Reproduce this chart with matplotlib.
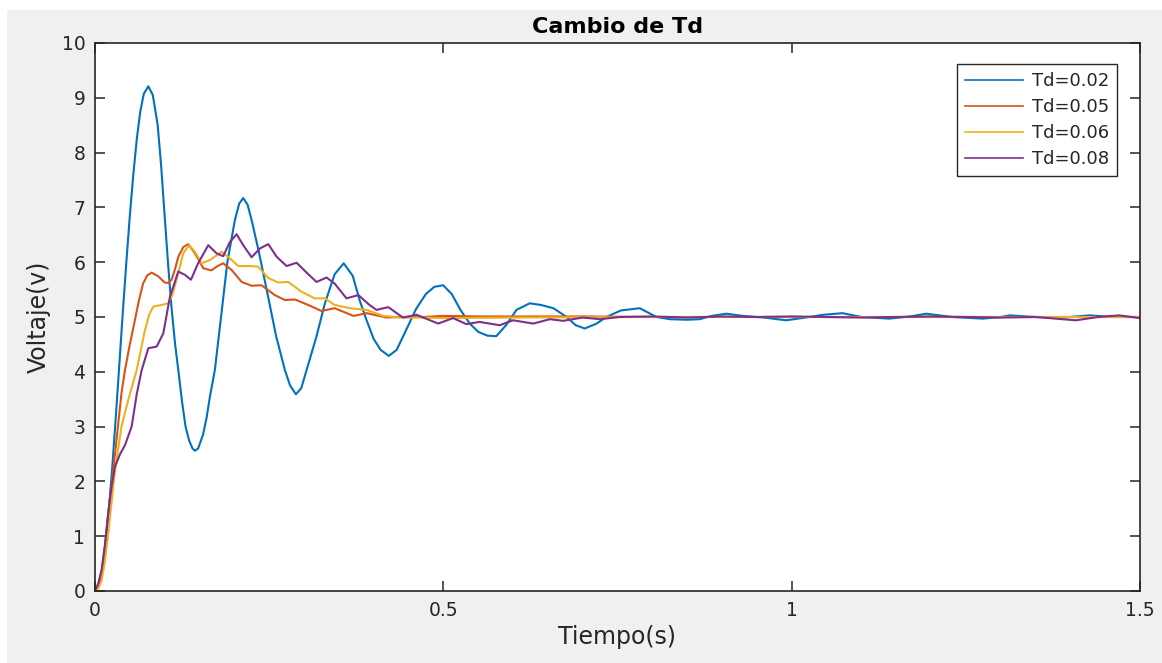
import matplotlib.pyplot as plt
from matplotlib.patches import Rectangle

# Step response readings (time in s, voltage in V)
t_02 = [0, 0.005, 0.01, 0.015, 0.02, 0.025, 0.03, 0.035, 0.04, 0.045, 0.05, 0.055,
        0.06, 0.065, 0.07, 0.0765, 0.083, 0.09, 0.095, 0.1004, 0.105, 0.11, 0.115,
        0.1196, 0.125, 0.13, 0.135, 0.14, 0.1435, 0.148, 0.155, 0.16, 0.165, 0.172,
        0.18, 0.19, 0.2008, 0.207, 0.2128, 0.219, 0.2248, 0.235, 0.248, 0.26, 0.2726,
        0.28, 0.2884, 0.296, 0.3037, 0.318, 0.33, 0.344, 0.357, 0.37, 0.38, 0.389,
        0.40, 0.41, 0.4217, 0.433, 0.445, 0.461, 0.475, 0.487, 0.4997, 0.512, 0.525,
        0.538, 0.55, 0.563, 0.576, 0.59, 0.605, 0.624, 0.64, 0.658, 0.677, 0.69, 0.703,
        0.72, 0.734, 0.755, 0.782, 0.806, 0.825, 0.85, 0.868, 0.885, 0.906, 0.93, 0.96,
        0.992, 1.02, 1.045, 1.073, 1.10, 1.14, 1.17, 1.193, 1.23, 1.274, 1.30,
        1.313, 1.35, 1.39, 1.428, 1.46, 1.5]
v_02 = [0, 0.1, 0.35, 0.85, 1.5, 2.3, 3.2, 4.15, 5.1, 6.0, 6.85, 7.6,
        8.25, 8.75, 9.07, 9.21, 9.05, 8.5, 7.75, 6.77, 5.95, 5.15, 4.5,
        4.03, 3.45, 3.0, 2.75, 2.6, 2.56, 2.6, 2.85, 3.15, 3.55, 4.03,
        4.9, 6.0, 6.77, 7.07, 7.17, 7.05, 6.77, 6.2, 5.4, 4.65, 4.03,
        3.75, 3.59, 3.7, 4.03, 4.65, 5.25, 5.78, 5.98, 5.75, 5.3, 4.97,
        4.6, 4.4, 4.29, 4.4, 4.72, 5.15, 5.42, 5.55, 5.58, 5.42, 5.12,
        4.88, 4.73, 4.66, 4.65, 4.85, 5.13, 5.25, 5.22, 5.16, 5.0, 4.85, 4.79,
        4.88, 5.0, 5.12, 5.16, 5.0, 4.96, 4.95, 4.96, 5.02, 5.06, 5.02, 4.99,
        4.94, 4.99, 5.04, 5.07, 5.0, 4.97, 5.01, 5.06, 5.0, 4.97, 5.0,
        5.03, 5.0, 4.99, 5.03, 5.0, 5.0]

t_05 = [0, 0.005, 0.0096, 0.0143, 0.019, 0.0287, 0.038, 0.043, 0.05, 0.0574, 0.063,
        0.069, 0.075, 0.0813, 0.091, 0.1, 0.105, 0.11, 0.115, 0.1196, 0.127, 0.134,
        0.1435, 0.1555, 0.167, 0.176, 0.184, 0.196, 0.2105, 0.2248, 0.239, 0.258,
        0.2726, 0.287, 0.306, 0.325, 0.344, 0.371, 0.39, 0.4185, 0.44, 0.47, 0.5,
        0.55, 0.6, 0.7, 0.8, 1.5]
v_05 = [0, 0.1, 0.32, 0.81, 1.42, 2.5, 3.61, 4.03, 4.5, 4.95, 5.3,
        5.61, 5.76, 5.81, 5.74, 5.63, 5.62, 5.68, 5.88, 6.10, 6.28, 6.33,
        6.16, 5.89, 5.85, 5.93, 5.98, 5.86, 5.64, 5.57, 5.58, 5.40,
        5.31, 5.32, 5.22, 5.11, 5.16, 5.02, 5.07, 4.99, 5.0, 5.0, 5.02,
        5.01, 5.01, 5.01, 5.0, 5.0]

t_06 = [0, 0.005, 0.0096, 0.0143, 0.019, 0.0287, 0.038, 0.048, 0.0598, 0.0717, 0.078,
        0.0837, 0.0956, 0.105, 0.111, 0.117, 0.1267, 0.1348, 0.1435, 0.153, 0.165,
        0.1817, 0.191, 0.2056, 0.22, 0.234, 0.2487, 0.263, 0.2774, 0.2965, 0.3156,
        0.33, 0.344, 0.366, 0.39, 0.4136, 0.4385, 0.47, 0.5, 0.6, 0.8, 1.0, 1.5]
v_06 = [0, 0.05, 0.2, 0.55, 1.05, 2.2, 3.0, 3.5, 4.03, 4.76, 5.05,
        5.19, 5.22, 5.25, 5.4, 5.68, 6.16, 6.31, 6.19, 5.98, 6.04,
        6.19, 6.10, 5.93, 5.93, 5.92, 5.71, 5.63, 5.64, 5.46, 5.34,
        5.34, 5.22, 5.16, 5.13, 5.02, 4.99, 4.99, 4.98, 4.99, 5.0, 5.0, 5.0]

t_08 = [0, 0.005, 0.0096, 0.0143, 0.019, 0.0237, 0.0287, 0.036, 0.043, 0.0526, 0.06,
        0.067, 0.0765, 0.0885, 0.098, 0.1076, 0.1195, 0.129, 0.1377, 0.148, 0.1626,
        0.1746, 0.184, 0.1937, 0.2033, 0.2128, 0.2248, 0.2367, 0.2487, 0.2607, 0.275,
        0.2894, 0.3037, 0.318, 0.3324, 0.344, 0.361, 0.378, 0.394, 0.404, 0.421,
        0.442, 0.4616, 0.4925, 0.514, 0.533, 0.552, 0.581, 0.6, 0.629, 0.653, 0.672,
        0.7, 0.725, 0.753, 0.8, 0.85, 0.9, 0.95, 1.0, 1.1, 1.2, 1.3, 1.35, 1.408,
        1.44, 1.47, 1.5]
v_08 = [0, 0.15, 0.4, 0.85, 1.42, 1.9, 2.27, 2.5, 2.66, 3.0, 3.6,
        4.03, 4.43, 4.46, 4.70, 5.37, 5.83, 5.77, 5.68, 5.98, 6.31,
        6.16, 6.11, 6.37, 6.51, 6.31, 6.09, 6.25, 6.33, 6.10, 5.93,
        5.99, 5.81, 5.64, 5.72, 5.61, 5.34, 5.40, 5.22, 5.13, 5.18,
        4.99, 5.04, 4.88, 4.98, 4.87, 4.91, 4.85, 4.94, 4.88, 4.96, 4.93,
        4.99, 4.96, 5.0, 5.01, 4.99, 5.01, 5.0, 5.01, 4.99, 5.01, 4.99, 5.0, 4.94,
        5.0, 5.03, 4.98]

labels = ["Td=0.02", "Td=0.05", "Td=0.06", "Td=0.08"]
colors = ["#0072BD", "#D95319", "#EDB120", "#7E2F8E"]

txt = "#262626"
plt.rcParams["font.family"] = "DejaVu Sans"

fig = plt.figure(figsize=(11.62, 6.63), dpi=100, facecolor="white")
# grey MATLAB figure background (white strip top/left from the screenshot)
fig.patches.append(Rectangle((7 / 1162, 0), 1, 1 - 10 / 663, transform=fig.transFigure,
                             facecolor="#f0f0f0", edgecolor="none", zorder=-10))

ax = fig.add_axes([95 / 1162, 72 / 663, 1045 / 1162, 548 / 663])
ax.set_facecolor("white")

series = [(t_02, v_02), (t_05, v_05), (t_06, v_06), (t_08, v_08)]
for (t, v), lab, col in zip(series, labels, colors):
    ax.plot(t, v, color=col, lw=1.5, label=lab)

ax.set_xlim(0, 1.5)
ax.set_ylim(0, 10)
ax.set_xticks([0, 0.5, 1, 1.5])
ax.set_xticklabels(["0", "0.5", "1", "1.5"])
ax.set_yticks(range(0, 11))

for sp in ax.spines.values():
    sp.set_color(txt)
    sp.set_linewidth(1.2)
ax.tick_params(direction="in", length=7, width=1.1, colors=txt, labelsize=13.5,
               top=True, right=True)
ax.tick_params(axis="x", pad=7)
ax.tick_params(axis="y", pad=7)

ax.set_title("Cambio de Td", fontsize=16, fontweight="bold", color="black", pad=7)
ax.set_xlabel("Tiempo(s)", fontsize=17, color=txt, labelpad=4)
ax.set_ylabel("Voltaje(v)", fontsize=17, color=txt, labelpad=8)

leg = ax.legend(loc="upper right", bbox_to_anchor=(0.978, 0.962), borderaxespad=0,
                fontsize=13, handlelength=3.2, labelspacing=0.45, handletextpad=0.5,
                fancybox=False, framealpha=1, borderpad=0.45)
leg.get_frame().set_edgecolor(txt)
leg.get_frame().set_linewidth(1.0)
for line in leg.get_lines():
    line.set_linewidth(1.2)
for t in leg.get_texts():
    t.set_color(txt)

fig.savefig("out.png", dpi=100, facecolor=fig.get_facecolor())
